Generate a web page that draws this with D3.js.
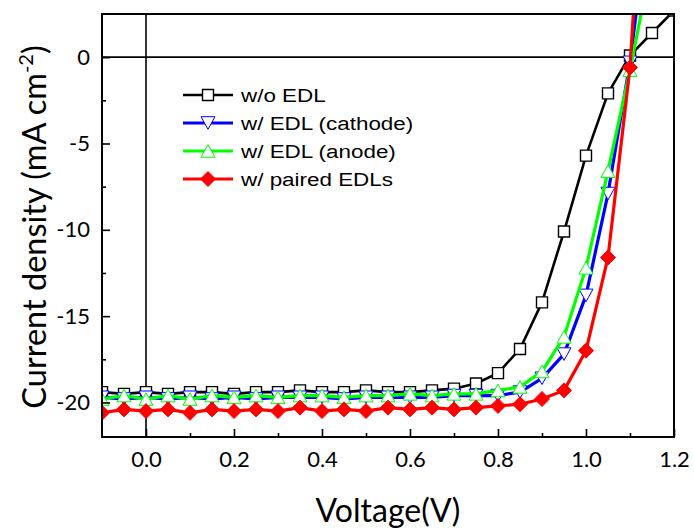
<!DOCTYPE html>
<html>
<head>
<meta charset="utf-8">
<script src="https://cdn.jsdelivr.net/npm/d3@7/dist/d3.min.js"></script>
<style>
  body { margin: 0; background: #fff; }
  svg { display: block; }
</style>
</head>
<body>
<div class="chart"></div>
<script>
// J-V data
const voltage = [-0.1, -0.05, 0, 0.05, 0.1, 0.15, 0.2, 0.25, 0.3, 0.35, 0.4, 0.45, 0.5, 0.55,
  0.6, 0.65, 0.7, 0.75, 0.8, 0.85, 0.9, 0.95, 1.0, 1.05, 1.1, 1.15, 1.2];
const jNoEdl = [-19.4, -19.5, -19.4, -19.5, -19.4, -19.4, -19.5, -19.4, -19.4, -19.3, -19.4, -19.4, -19.3, -19.4,
  -19.4, -19.3, -19.2, -18.9, -18.3, -16.9, -14.2, -10.1, -5.7, -2.1, 0.1, 1.4, 2.7];
const jCathode = [-19.7, -19.8, -19.7, -19.8, -19.7, -19.8, -19.7, -19.8, -19.7, -19.7, -19.7, -19.8, -19.7, -19.7,
  -19.7, -19.7, -19.6, -19.6, -19.6, -19.4, -18.6, -17.2, -13.8, -7.9, -0.3, 9.9, 20];
const jAnode = [-19.8, -19.6, -19.8, -19.6, -19.8, -19.6, -19.7, -19.6, -19.7, -19.6, -19.6, -19.7, -19.6, -19.6,
  -19.5, -19.6, -19.5, -19.5, -19.3, -19.1, -18.2, -16.2, -12.2, -6.6, -0.75, 5.7, 12];
const jPaired = [-20.6, -20.4, -20.5, -20.4, -20.6, -20.4, -20.5, -20.4, -20.5, -20.3, -20.5, -20.4, -20.5, -20.3,
  -20.4, -20.3, -20.4, -20.3, -20.2, -20.1, -19.8, -19.3, -17.0, -11.6, -0.6, 20, 40];

const seriesNames = ["w/o EDL", "w/ EDL (cathode)", "w/ EDL (anode)", "w/ paired EDLs"];
const seriesColors = ["#000000", "#0000ff", "#00ff00", "#ff0000"];
const seriesSymbols = ["square", "down", "up", "diamond"];
const seriesValues = [jNoEdl, jCathode, jAnode, jPaired];

const xTicks = [0.0, 0.2, 0.4, 0.6, 0.8, 1.0, 1.2];
const yTicks = [0, -5, -10, -15, -20];

const width = 694, height = 530;
const margin = { left: 102, right: 20, top: 14, bottom: 93 };

const svg = d3.select(".chart").append("svg")
  .attr("width", width)
  .attr("height", height);

const x = d3.scaleLinear().domain([-0.1, 1.2]).range([margin.left, width - margin.right]);
const y = d3.scaleLinear().domain([-22, 2.5]).range([height - margin.bottom, margin.top]);

svg.append("clipPath").attr("id", "plotclip")
  .append("rect")
  .attr("x", x(-0.1)).attr("y", y(2.5))
  .attr("width", x(1.2) - x(-0.1)).attr("height", y(-22) - y(2.5));

// zero lines
svg.append("line")
  .attr("x1", x(-0.1)).attr("x2", x(1.2)).attr("y1", y(0)).attr("y2", y(0))
  .attr("stroke", "#000").attr("stroke-width", 1.6);
svg.append("line")
  .attr("x1", x(0)).attr("x2", x(0)).attr("y1", y(2.5)).attr("y2", y(-22))
  .attr("stroke", "#000").attr("stroke-width", 1.6);

function symbolPath(type, s) {
  if (type === "square") return `M${-s/2},${-s/2}h${s}v${s}h${-s}Z`;
  if (type === "down") { const h = s * 0.9; return `M${-s/2},${-h/2}L${s/2},${-h/2}L0,${h/2}Z`; }
  if (type === "up") { const h = s * 0.9; return `M${-s/2},${h/2}L${s/2},${h/2}L0,${-h/2}Z`; }
  return `M0,${-s/2}L${s/2},0L0,${s/2}L${-s/2},0Z`;
}
function symbolSize(type) {
  return type === "square" ? 11 : type === "diamond" ? 15 : 14;
}

const line = d3.line()
  .x((d, i) => x(voltage[i]))
  .y(d => y(d));

const plot = svg.append("g").attr("clip-path", "url(#plotclip)");

seriesValues.forEach((vals, k) => {
  const g = plot.append("g");
  g.append("path")
    .datum(vals)
    .attr("d", line)
    .attr("fill", "none")
    .attr("stroke", seriesColors[k])
    .attr("stroke-width", k === 0 ? 2.6 : 3.2)
    .attr("stroke-linejoin", "round");
  const sym = seriesSymbols[k];
  g.selectAll("path.sym")
    .data(vals)
    .enter().append("path")
    .attr("class", "sym")
    .attr("transform", (d, i) => `translate(${x(voltage[i])},${y(d)})`)
    .attr("d", symbolPath(sym, symbolSize(sym)))
    .attr("fill", sym === "diamond" ? seriesColors[k] : "#fff")
    .attr("stroke", seriesColors[k])
    .attr("stroke-width", sym === "square" ? 1.4 : 1);
});

// frame
svg.append("rect")
  .attr("x", x(-0.1)).attr("y", y(2.5))
  .attr("width", x(1.2) - x(-0.1)).attr("height", y(-22) - y(2.5))
  .attr("fill", "none").attr("stroke", "#000").attr("stroke-width", 2);

// axes, ticks pointing inward
const xAxis = svg.append("g")
  .attr("transform", `translate(0,${y(-22)})`)
  .call(d3.axisBottom(x).tickValues(xTicks).tickFormat(d3.format(".1f")).tickSize(-8).tickPadding(14));
const xMinor = svg.append("g")
  .attr("transform", `translate(0,${y(-22)})`)
  .call(d3.axisBottom(x).tickValues([0.1, 0.3, 0.5, 0.7, 0.9, 1.1]).tickFormat("").tickSize(-4));
const yAxis = svg.append("g")
  .attr("transform", `translate(${x(-0.1)},0)`)
  .call(d3.axisLeft(y).tickValues(yTicks).tickFormat(d => String(d)).tickSize(-8).tickPadding(12));
const yMinor = svg.append("g")
  .attr("transform", `translate(${x(-0.1)},0)`)
  .call(d3.axisLeft(y).tickValues([-2.5, -7.5, -12.5, -17.5]).tickFormat("").tickSize(-4));

[xAxis, xMinor, yAxis, yMinor].forEach(a => {
  a.select(".domain").remove();
  a.selectAll(".tick line").attr("stroke", "#000").attr("stroke-width", 1.6);
  a.selectAll("text")
    .attr("font-family", "Lato, 'Open Sans', sans-serif")
    .attr("font-size", 22)
    .attr("fill", "#000");
});

// axis titles
svg.append("text")
  .attr("x", (x(-0.1) + x(1.2)) / 2)
  .attr("y", 522)
  .attr("text-anchor", "middle")
  .attr("font-family", "Lato, 'Open Sans', sans-serif")
  .attr("font-size", 32)
  .text("Voltage(V)");

const yTitle = svg.append("text")
  .attr("transform", `translate(46,227) rotate(-90)`)
  .attr("text-anchor", "middle")
  .attr("font-family", "Lato, 'Open Sans', sans-serif")
  .attr("font-size", 32.5);
yTitle.append("tspan").text("Current density (mA cm");
yTitle.append("tspan").attr("font-size", 20).attr("dy", -13).text("-2");
yTitle.append("tspan").attr("dy", 13).text(")");

// legend
const legend = svg.append("g");
seriesNames.forEach((name, k) => {
  const cy = 95 + k * 28;
  const row = legend.append("g");
  row.append("line")
    .attr("x1", 183).attr("x2", 233).attr("y1", cy).attr("y2", cy)
    .attr("stroke", seriesColors[k]).attr("stroke-width", k === 0 ? 2.6 : 3.2);
  const sym = seriesSymbols[k];
  row.append("path")
    .attr("transform", `translate(208,${cy})`)
    .attr("d", symbolPath(sym, symbolSize(sym)))
    .attr("fill", sym === "diamond" ? seriesColors[k] : "#fff")
    .attr("stroke", seriesColors[k])
    .attr("stroke-width", sym === "square" ? 1.4 : 1);
  row.append("text")
    .attr("transform", `translate(241,${cy + 7}) scale(1.18,1)`)
    .attr("font-family", "'Liberation Sans', Arial, sans-serif")
    .attr("font-size", 19)
    .text(name);
});
</script>
</body>
</html>
